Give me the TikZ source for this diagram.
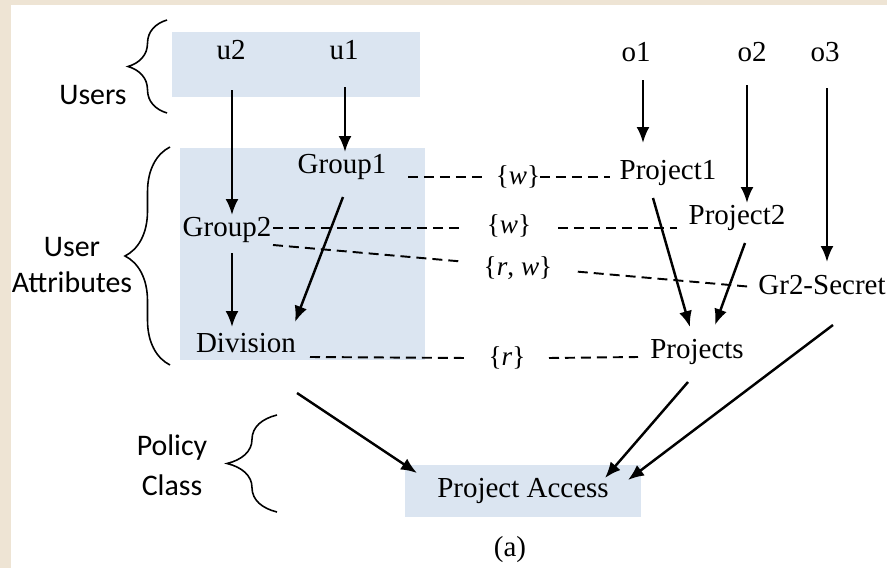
\documentclass[tikz,border=0pt]{standalone}
\usepackage{fontspec}
\setmainfont{Liberation Serif}
\newfontfamily\bracefont{Carlito}
\usepackage{xcolor}
\usetikzlibrary{arrows.meta,calc,decorations.pathreplacing}
\definecolor{boxblue}{RGB}{219,229,241}
\definecolor{paper}{RGB}{238,228,212}

\begin{document}
\begin{tikzpicture}[x=0.02cm, y=-0.02cm, every node/.style={align=center, inner sep=0pt}]
\tikzset{
  elem/.style={font=\fontsize{16.5}{19}\selectfont},
  perm/.style={font=\fontsize{15.5}{18}\selectfont},
  tag/.style={font=\bracefont\fontsize{17}{20.5}\selectfont},
  arr/.style={-{Latex[length=0.32cm,width=0.26cm]}, line width=1.4pt},
  rel/.style={dash pattern=on 0.2cm off 0.12cm, line width=1.1pt},
  grp/.style={decorate, decoration={brace, amplitude=#1, aspect=0.5}, line width=0.9pt}
}
% page and shaded regions
\fill[paper] (0,0) rectangle (887,568);
\fill[white] (11,5) rectangle (887,568);
\fill[boxblue] (172,32) rectangle (420,97);
\fill[boxblue] (180,148) rectangle (425,360);

% braces and their labels
\draw[grp=0.78cm] (167,113) -- (167,20);
\draw[grp=0.9cm] (170,365) -- (170,147);
\draw[grp=1cm] (277,512) -- (277,415);
\node[tag] (users) at (93,95) {Users};
\node[tag] (uattr) at (72,265) {User\\Attributes};
\node[tag] (pclass) at (172,465) {Policy\\[2pt]Class};

% users and objects
\node[elem] (u2) at (231,50) {u2};
\node[elem] (u1) at (344,50) {u1};
\node[elem] (o1) at (636,52) {o1};
\node[elem] (o2) at (752,52) {o2};
\node[elem] (o3) at (825,52) {o3};

% attributes
\node[elem] (g1) at (342,167) {Group1};
\node[elem] (g2) at (227,230) {Group2};
\node[elem] (div) at (246,343) {Division};
\node[elem] (p1) at (668,173) {Project1};
\node[elem] (p2) at (737,218) {Project2};
\node[elem] (gr2) at (822,285) {Gr2-Secret};
\node[elem] (projs) at (697,352) {Projects};
\node[elem, fill=boxblue, minimum width=4.74cm, minimum height=1.04cm] (pa) at (523,491) {Project Access};
\node[elem] (cap) at (510,550) {(a)};

% rights
\node[perm] (w1) at (518,177) {\{\textit{w}\}};
\node[perm] (w2) at (509,226) {\{\textit{w}\}};
\node[perm] (rw) at (518,268) {\{\textit{r}, \textit{w}\}};
\node[perm] (r) at (507,358) {\{\textit{r}\}};

% assignments
\draw[arr] ($(u2)+(1,40)$) -- ($(g2)+(5,-15)$);
\draw[arr] ($(u1)+(1,37)$) -- ($(g1)+(3,-15)$);
\draw[arr] ($(g2)+(5,23)$) -- ($(div)+(-14,-16)$);
\draw[arr] ($(g1)+(1,30)$) -- ($(div)+(49,-21)$);
\draw[arr] ($(o1)+(7,28)$) -- ($(p1)+(-25,-30)$);
\draw[arr] ($(o2)+(-5,33)$) -- ($(p2)+(10,-15)$);
\draw[arr] ($(o3)+(2,36)$) -- ($(gr2)+(5,-23)$);
\draw[arr] ($(p1)+(-15,25)$) -- ($(projs)+(-7,-25)$);
\draw[arr] ($(p2)+(8,25)$) -- ($(projs)+(18,-27)$);
\draw[arr] ($(div)+(51,50)$) -- ($(pa)+(-106,-18)$);
\draw[arr] ($(projs)+(-9,30)$) -- ($(pa)+(82,-13)$);
\draw[arr] ($(gr2)+(11,40)$) -- ($(pa)+(105,-11)$);

% associations
\draw[rel] ($(g1)+(66,10)$) -- ($(w1)+(-36,0)$);
\draw[rel] ($(w1)+(22,0)$) -- ($(p1)+(-58,4)$);
\draw[rel] ($(g2)+(46,-2)$) -- ($(w2)+(-46,2)$);
\draw[rel] ($(w2)+(49,2)$) -- ($(p2)+(-60,10)$);
\path ($(g2)+(46,15)$) coordinate (rwa) -- ($(gr2)+(-69,2)$) coordinate (rwb)
  coordinate[pos=0.396] (rwc) coordinate[pos=0.635] (rwd);
\draw[rel] (rwa) -- (rwc);
\draw[rel] (rwd) -- (rwb);
\draw[rel] ($(div)+(64,14)$) -- ($(r)+(-40,0)$);
\draw[rel] ($(r)+(42,0)$) -- ($(projs)+(-59,5)$);
\end{tikzpicture}
\end{document}
